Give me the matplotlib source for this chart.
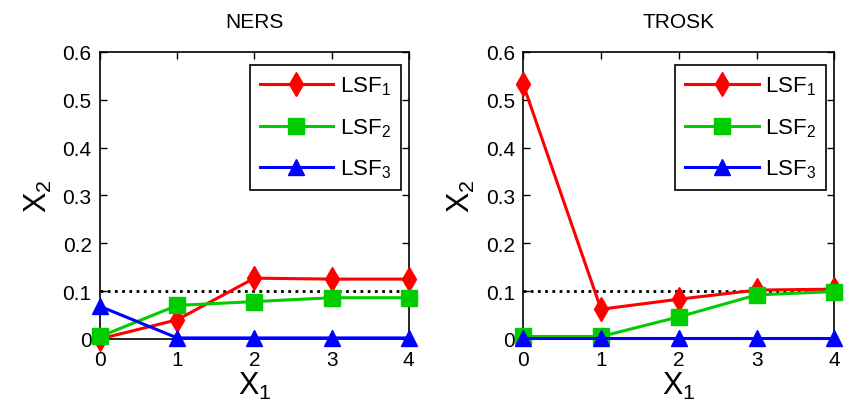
import matplotlib
matplotlib.use("Agg")
import matplotlib.pyplot as plt

plt.rcParams['font.family'] = ['Liberation Sans', 'DejaVu Sans']
plt.rcParams['mathtext.fontset'] = 'custom'
plt.rcParams['mathtext.rm'] = 'Liberation Sans'
plt.rcParams['mathtext.it'] = 'Liberation Sans'
plt.rcParams['mathtext.default'] = 'regular'

x1 = [0, 1, 2, 3, 4]
titles = ["NERS", "TROSK"]
series_names = ["LSF$_1$", "LSF$_2$", "LSF$_3$"]

ners_lsf1 = [0.0, 0.04, 0.127, 0.125, 0.125]
ners_lsf2 = [0.005, 0.07, 0.078, 0.086, 0.086]
ners_lsf3 = [0.068, 0.002, 0.002, 0.002, 0.002]

trosk_lsf1 = [0.532, 0.062, 0.083, 0.102, 0.104]
trosk_lsf2 = [0.005, 0.005, 0.046, 0.092, 0.099]
trosk_lsf3 = [0.002, 0.002, 0.002, 0.002, 0.002]

threshold = 0.1
yticks = [0, 0.1, 0.2, 0.3, 0.4, 0.5, 0.6]
yticklabels = ["0", "0.1", "0.2", "0.3", "0.4", "0.5", "0.6"]

colors = ["#ff0000", "#00cc00", "#0000ff"]
markers = ["d", "s", "^"]
msizes = [12.5, 11, 11]

fig = plt.figure(figsize=(8.48, 4.10), dpi=100)
ax_l = fig.add_axes([0.118, 0.171, 0.364, 0.700])
ax_r = fig.add_axes([0.617, 0.171, 0.367, 0.700])

all_data = [[ners_lsf1, ners_lsf2, ners_lsf3], [trosk_lsf1, trosk_lsf2, trosk_lsf3]]

for ax, title, data in zip([ax_l, ax_r], titles, all_data):
    ax.plot(x1, [threshold] * len(x1), color="black", linestyle=(0, (1, 1.6)), linewidth=2)
    lines = []
    for vals, name, c, m, ms in zip(data, series_names, colors, markers, msizes):
        ln, = ax.plot(x1, vals, color=c, marker=m, markersize=ms, linewidth=2.2,
                      markerfacecolor=c, markeredgecolor=c, label=name, clip_on=False, zorder=3)
        lines.append(ln)
    ax.set_xlim(0, 4)
    ax.set_ylim(0, 0.6)
    ax.set_xticks(x1)
    ax.set_yticks(yticks)
    ax.set_yticklabels(yticklabels)
    ax.tick_params(direction="in", top=True, right=True, length=5, width=1,
                   labelsize=15)
    ax.tick_params(axis="x", pad=8)
    ax.tick_params(axis="y", pad=6)
    for s in ax.spines.values():
        s.set_linewidth(1.2)
    ax.set_title(title, fontsize=15, pad=18)
    ax.set_xlabel("X$_1$", fontsize=22, labelpad=1)
    ax.set_ylabel("X$_2$", fontsize=22, labelpad=6)
    leg = ax.legend(lines, series_names, loc="upper right", fontsize=16,
                    handlelength=3.3, labelspacing=0.85, borderpad=0.45,
                    handletextpad=0.3, borderaxespad=0.0, fancybox=False,
                    framealpha=1, edgecolor="black", bbox_to_anchor=(0.974, 0.955))
    leg.get_frame().set_linewidth(1.2)

fig.savefig("out.png", dpi=100, facecolor="white")
